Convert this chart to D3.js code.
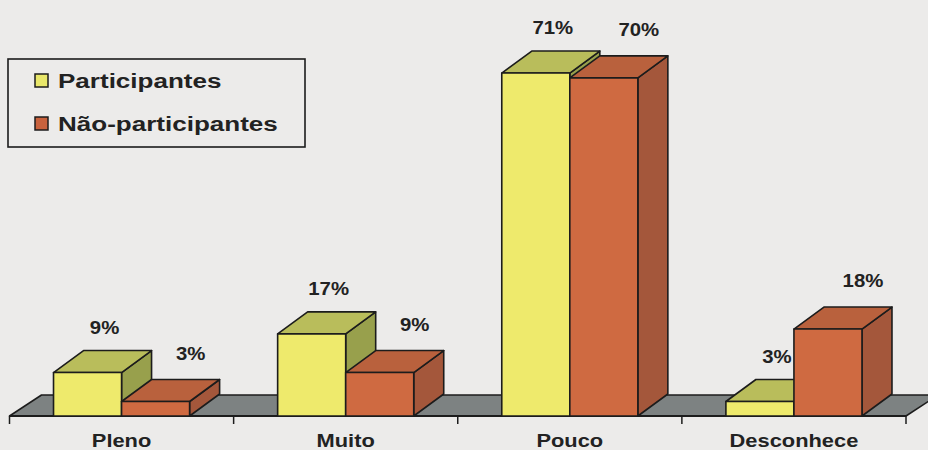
<!DOCTYPE html>
<html>
<head>
<meta charset="utf-8">
<script src="https://cdn.jsdelivr.net/npm/d3@7"></script>
<style>
  html, body { margin: 0; padding: 0; background: #ecebea; }
  svg { display: block; }
  text { font-family: "Liberation Sans", Arial, sans-serif; font-weight: bold; fill: #222; }
</style>
</head>
<body>
<svg id="chart" width="928" height="450"></svg>
<script>
// Knowledge level by group (percent)
const categories = ["Pleno", "Muito", "Pouco", "Desconhece"];
const seriesNames = ["Participantes", "Não-participantes"];
const participantes = [9, 17, 71, 3];
const naoParticipantes = [3, 9, 70, 18];

const seriesValues = [participantes, naoParticipantes];

// face colours per series: front, top, side
const palettes = [
  { front: "#eeea6c", top: "#b9bd5b", side: "#98a04c", swatch: "#e9e76a" },
  { front: "#cf6a41", top: "#b9613d", side: "#a4573b", swatch: "#c9623d" }
];

const svg = d3.select("#chart");
const baseY = 416;
const depthX = 30, depthY = -22;

const x0 = d3.scaleBand().domain(categories).range([9.5, 906]).padding(0);
const x1 = d3.scaleBand().domain(seriesNames).range([0, x0.bandwidth()]).paddingInner(0).paddingOuter(0.647);
const y = d3.scaleLinear().domain([0, 80]).range([baseY, baseY - 80 * 4.83]);

const stroke = "#1c1c1c";

// floor
const fl = x0.range()[0], fr = x0.range()[1];
svg.append("polygon")
  .attr("points", [[fl, baseY], [fl + depthX + 2, baseY + depthY + 1], [fr + depthX + 2, baseY + depthY + 1], [fr, baseY]].map(p => p.join(",")).join(" "))
  .attr("fill", "#7d8282")
  .attr("stroke", stroke)
  .attr("stroke-width", 1.5)
  .attr("stroke-linejoin", "round");

// category ticks along the front edge of the floor
const tickXs = categories.map(c => x0(c)).concat([fr]);
svg.selectAll("line.tick").data(tickXs).join("line")
  .attr("class", "tick")
  .attr("x1", d => d).attr("x2", d => d)
  .attr("y1", baseY).attr("y2", baseY + 8)
  .attr("stroke", stroke).attr("stroke-width", 1.5);

svg.append("line")
  .attr("x1", fl).attr("x2", fr).attr("y1", baseY).attr("y2", baseY)
  .attr("stroke", stroke).attr("stroke-width", 2);

// 3D boxes, left to right so each box hides the side of the one before it
const bars = [];
categories.forEach((c, ci) => {
  seriesNames.forEach((s, si) => {
    bars.push({ category: c, series: s, si, value: seriesValues[si][ci] });
  });
});

const g = svg.append("g");
bars.forEach(b => {
  const xa = x0(b.category) + x1(b.series);
  const xb = xa + x1.bandwidth();
  const yt = y(b.value);
  const pal = palettes[b.si];
  const grp = g.append("g");
  const pts = arr => arr.map(p => p.join(",")).join(" ");
  grp.append("polygon")
    .attr("points", pts([[xb, yt], [xb + depthX, yt + depthY], [xb + depthX, baseY + depthY], [xb, baseY]]))
    .attr("fill", pal.side);
  grp.append("polygon")
    .attr("points", pts([[xa, yt], [xa + depthX, yt + depthY], [xb + depthX, yt + depthY], [xb, yt]]))
    .attr("fill", pal.top);
  grp.append("rect")
    .attr("x", xa).attr("y", yt).attr("width", xb - xa).attr("height", baseY - yt)
    .attr("fill", pal.front);
  grp.selectAll("polygon, rect")
    .attr("stroke", stroke).attr("stroke-width", 1.6).attr("stroke-linejoin", "round");
});

// value labels
const labelDX = [17, 35], labelDY = [39, 42];
svg.selectAll("text.value").data(bars).join("text")
  .attr("class", "value")
  .attr("text-anchor", "middle")
  .attr("font-size", 18.5)
  .attr("transform", d => {
    const cx = x0(d.category) + x1(d.series) + x1.bandwidth() / 2 + labelDX[d.si];
    const cy = y(d.value) - labelDY[d.si];
    return `translate(${cx},${cy}) scale(1.1,1)`;
  })
  .text(d => d.value + "%");

// category labels
svg.selectAll("text.cat").data(categories).join("text")
  .attr("class", "cat")
  .attr("text-anchor", "middle")
  .attr("font-size", 19)
  .attr("transform", d => `translate(${x0(d) + x0.bandwidth() / 2},447) scale(1.15,1)`)
  .text(d => d);

// legend
const legend = svg.append("g");
legend.append("rect")
  .attr("x", 8).attr("y", 59).attr("width", 297).attr("height", 88)
  .attr("fill", "none").attr("stroke", stroke).attr("stroke-width", 1.6);
seriesNames.forEach((s, i) => {
  const ly = 74 + i * 43;
  legend.append("rect")
    .attr("x", 35).attr("y", ly).attr("width", 13).attr("height", 13)
    .attr("fill", palettes[i].swatch).attr("stroke", stroke).attr("stroke-width", 1.5);
  legend.append("text")
    .attr("font-size", 21)
    .attr("transform", `translate(58,${ly + 13.5}) scale(1.24,1)`)
    .text(s);
});
</script>
</body>
</html>
